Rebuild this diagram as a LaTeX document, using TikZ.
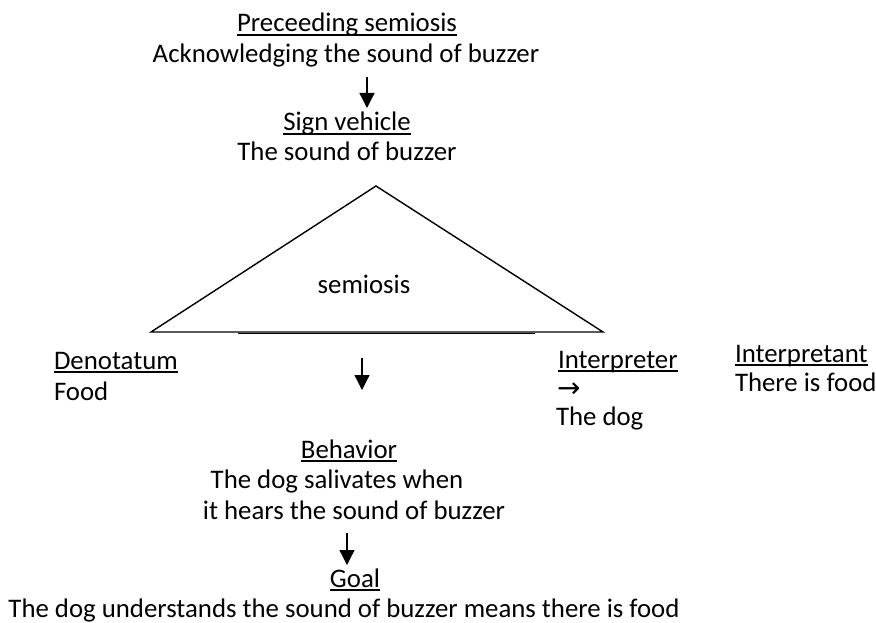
\documentclass[tikz,border=0pt]{standalone}
\usepackage{fontspec}
\setmainfont{Carlito}
\newfontfamily\symfont{DejaVu Sans}
\usetikzlibrary{arrows.meta}
\tikzset{
  txt/.style={inner sep=0pt, outer sep=0pt, font=\fontsize{26.8}{30}\selectfont},
  ctxt/.style={txt, anchor=base},
  ltxt/.style={txt, anchor=base west},
  uline/.style={line width=1.5pt},
  flow/.style={line width=1.3pt, -{Triangle[length=15pt,width=15pt]}},
  tri/.style={line width=1.4pt, line join=miter}
}
\newcommand{\ul}[1]{\draw[uline] ([yshift=-3pt]#1.base west) -- ([yshift=-3pt]#1.base east);}
\begin{document}
\begin{tikzpicture}[x=1pt,y=-1pt]
\useasboundingbox (0,0) rectangle (876,623);
% top
\node[ctxt] (prec) at (347,32) {Preceeding semiosis};
\ul{prec}
\node[ctxt] (ack) at (346,63) {Acknowledging the sound of buzzer};
\coordinate (a1s) at (367,77);
\coordinate (a1e) at (367,108);
\draw[flow] (a1s) -- (a1e);
\node[ctxt] (sign) at (347,131) {Sign vehicle};
\ul{sign}
\node[ctxt] (sound) at (347,161) {The sound of buzzer};
% triangle
\coordinate (apex) at (376,186);
\coordinate (bl) at (151,332);
\coordinate (br) at (603,332);
\draw[tri] (apex) -- (bl) -- (br) -- cycle;
\coordinate (b2l) at (238,333.5);
\coordinate (b2r) at (535,333.5);
\draw[line width=1.4pt] (b2l) -- (b2r);
\node[ctxt] (sem) at (364,293) {semiosis};
% middle row
\node[ltxt] (den) at (54,369) {Denotatum};
\ul{den}
\node[ltxt] (food) at (54,400) {Food};
\coordinate (a2s) at (362,358);
\coordinate (a2e) at (362,390);
\draw[flow] (a2s) -- (a2e);
\node[ltxt] (intr) at (558,368) {Interpreter};
\ul{intr}
\node[ltxt] (arr) at (557,397) {\symfont\fontsize{28}{30}\selectfont →};
\node[ltxt] (dog) at (556,425) {The dog};
\node[ltxt] (intt) at (735,362) {Interpretant};
\ul{intt}
\node[ltxt] (there) at (735,391) {There is food};
% bottom
\node[ctxt] (beh) at (349,458) {Behavior};
\ul{beh}
\node[ctxt] (sal) at (337,488) {The dog salivates when};
\node[ctxt] (hears) at (354,519) {it hears the sound of buzzer};
\coordinate (a3s) at (347,533);
\coordinate (a3e) at (347,565);
\draw[flow] (a3s) -- (a3e);
\node[ctxt] (goal) at (355,587) {Goal};
\ul{goal}
\node[ctxt] (und) at (344,617) {The dog understands the sound of buzzer means there is food};
\end{tikzpicture}
\end{document}
